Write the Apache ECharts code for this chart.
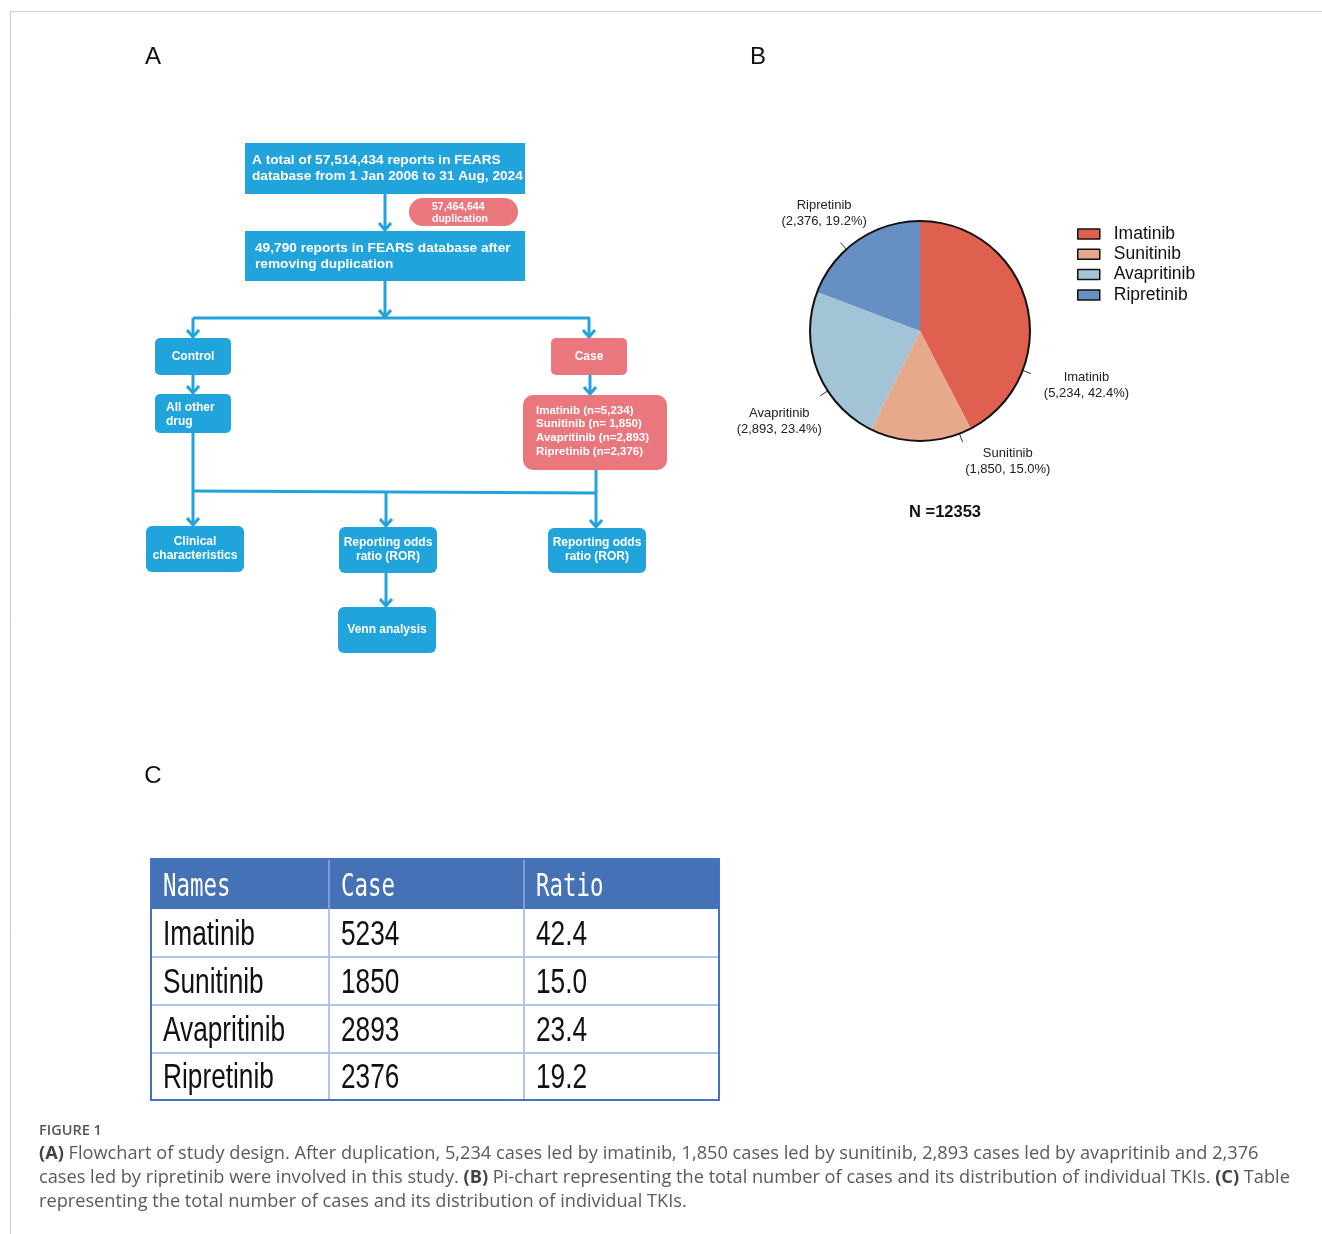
<!DOCTYPE html>
<html>
<head>
<meta charset="utf-8">
<script src="https://cdn.jsdelivr.net/npm/echarts@6/dist/echarts.min.js"></script>
<style>
  html, body { margin: 0; padding: 0; background: #fff; }
  #main { width: 1322px; height: 1234px; }
</style>
</head>
<body>
<div id="main"></div>
<script>
// ---- data ----
const drugs = ['Imatinib', 'Sunitinib', 'Avapritinib', 'Ripretinib'];
const cases = [5234, 1850, 2893, 2376];
const ratios = [42.4, 15.0, 23.4, 19.2];
const tableHeader = ['Names', 'Case', 'Ratio'];

// flowchart wording
const totalReports = '57,514,434';
const duplicates = '57,464,644';
const keptReports = '49,790';
const studyPeriod = '1 Jan 2006 to 31 Aug, 2024';
const caseGroups = ['Imatinib (n=5,234)', 'Sunitinib (n= 1,850)', 'Avapritinib (n=2,893)', 'Ripretinib (n=2,376)'];

// ---- styles ----
const sliceColors = ['#E0604F', '#E7A98C', '#A3C4D6', '#6690C4'];
const BLUE = '#21A3DB';
const PINK = '#E9777D';
const FF = '"Liberation Sans", Arial, sans-serif';

// pie geometry and label placement (angles clockwise from 12 o'clock)
const PIE_C = [920, 331];
const PIE_R = 110;
const tickAngle = [111, 159, 237, 318];
const labelAngle = [108, 146, 237.4, 320.9];
const labelDist = [175, 157, 167, 152];

const els = [];

// frame lines
els.push({ type: 'line', shape: { x1: 10, y1: 11.5, x2: 1322, y2: 11.5 }, style: { stroke: '#cfcfcf', lineWidth: 1 } });
els.push({ type: 'line', shape: { x1: 10.5, y1: 11, x2: 10.5, y2: 1234 }, style: { stroke: '#cfcfcf', lineWidth: 1 } });

// panel letters
function letter(t, x, y) {
  els.push({ type: 'text', x: x, y: y, style: { text: t, fill: '#111', fontSize: 24, fontFamily: FF, textAlign: 'center', textVerticalAlign: 'middle' } });
}
letter('A', 153, 57);
letter('B', 758, 57);
letter('C', 153, 776);

// ---- flowchart helpers ----
function box(x, y, w, h, r, fill) {
  els.push({ type: 'rect', shape: { x: x, y: y, width: w, height: h, r: r }, style: { fill: fill } });
}
function label(t, x, y, size, lh, align) {
  els.push({ type: 'text', x: x, y: y, style: {
    text: t, fill: '#fff', fontSize: size, fontWeight: 'bold', fontFamily: FF,
    lineHeight: lh, textAlign: align || 'center', textVerticalAlign: 'middle' } });
}
function line(pts) {
  els.push({ type: 'polyline', shape: { points: pts }, style: { stroke: BLUE, lineWidth: 3, fill: null, lineJoin: 'miter' } });
}
function arrowDown(x, y1, y2) {
  line([[x, y1], [x, y2 - 1]]);
  line([[x - 6, y2 - 8], [x, y2 - 1], [x + 6, y2 - 8]]);
}

// top boxes
box(245, 143, 280, 51, 0, BLUE);
label('A total of ' + totalReports + ' reports in FEARS\ndatabase from ' + studyPeriod, 252, 168.5, 13.7, 16, 'left');
arrowDown(385, 194, 231);
els.push({ type: 'rect', shape: { x: 409, y: 198, width: 109, height: 28, r: 14 }, style: { fill: PINK } });
label(duplicates + '\nduplication', 432, 213, 10.5, 12, 'left');
box(245, 231, 280, 50, 0, BLUE);
label(keptReports + ' reports in FEARS database after\nremoving duplication', 255, 256, 13.7, 16, 'left');

// split into control / case
arrowDown(385, 281, 318);
line([[193, 318], [590, 318]]);
arrowDown(193, 318, 338);
arrowDown(589, 318, 338);
box(155, 338, 76, 37, 5, BLUE);
label('Control', 193, 357, 12, 14);
box(551, 338, 76, 37, 5, PINK);
label('Case', 589, 357, 12, 14);
arrowDown(193, 375, 394);
arrowDown(590, 375, 395);
box(155, 394, 76, 39, 5, BLUE);
label('All other\ndrug', 166, 415, 12, 14, 'left');
box(523, 395, 144, 75, 10, PINK);
label(caseGroups.join('\n'), 536, 431, 11.5, 13.6, 'left');

// analyses
line([[193, 433], [193, 491]]);
arrowDown(193, 491, 526);
line([[596, 470], [596, 493]]);
arrowDown(596, 493, 528);
line([[193, 491], [596, 493]]);
arrowDown(386, 492, 527);
box(146, 526, 98, 46, 6, BLUE);
label('Clinical\ncharacteristics', 195, 549, 12, 14);
box(339, 527, 98, 46, 6, BLUE);
label('Reporting odds\nratio (ROR)', 388, 550, 12, 14);
box(548, 528, 98, 45, 6, BLUE);
label('Reporting odds\nratio (ROR)', 597, 550, 12, 14);
arrowDown(386, 573, 607);
box(338, 607, 98, 46, 6, BLUE);
label('Venn analysis', 387, 630, 12, 14);

// N total under the pie
const total = cases.reduce((a, b) => a + b, 0);
els.push({ type: 'text', x: 945, y: 512, style: { text: 'N =' + total, fill: '#111', fontSize: 16.5, fontWeight: 'bold', fontFamily: FF, textAlign: 'center', textVerticalAlign: 'middle' } });

// ---- table ----
const colX = [151, 329, 524, 719];
const rowY = [859, 909, 957, 1005, 1053, 1100];
els.push({ type: 'rect', shape: { x: colX[0], y: rowY[0], width: colX[3] - colX[0], height: rowY[1] - rowY[0] }, style: { fill: '#4571B6' } });
// inner grid
for (let r = 2; r < rowY.length - 1; r++) {
  els.push({ type: 'line', shape: { x1: colX[0], y1: rowY[r], x2: colX[3], y2: rowY[r] }, style: { stroke: '#B4C6E7', lineWidth: 2 } });
}
for (let c = 1; c < colX.length - 1; c++) {
  els.push({ type: 'line', shape: { x1: colX[c], y1: rowY[1], x2: colX[c], y2: rowY[5] }, style: { stroke: '#B4C6E7', lineWidth: 2 } });
  els.push({ type: 'line', shape: { x1: colX[c], y1: rowY[0], x2: colX[c], y2: rowY[1] }, style: { stroke: '#7F9BD0', lineWidth: 2 } });
}
els.push({ type: 'rect', shape: { x: colX[0], y: rowY[0], width: colX[3] - colX[0], height: rowY[5] - rowY[0] }, style: { fill: null, stroke: '#4472C4', lineWidth: 2 } });

function cell(t, c, r, head) {
  const yMid = (rowY[r] + rowY[r + 1]) / 2 + (head ? 4 : 2);
  els.push({
    type: 'text', x: colX[c] + 12, y: yMid, scaleX: head ? 0.7 : 0.75,
    style: {
      text: t, fill: head ? '#fff' : '#111',
      fontSize: head ? 32 : 35, fontFamily: head ? '"DejaVu Sans Mono", monospace' : FF,
      fontWeight: head ? 300 : 'normal',
      textAlign: 'left', textVerticalAlign: 'middle'
    }
  });
}
tableHeader.forEach((h, c) => cell(h, c, 0, true));
drugs.forEach((d, i) => {
  cell(d, 0, i + 1);
  cell(String(cases[i]), 1, i + 1);
  cell(ratios[i].toFixed(1), 2, i + 1);
});

// ---- caption ----
const capFont = '"Open Sans", Lato, sans-serif';
els.push({ type: 'text', x: 39, y: 1131, style: { text: 'FIGURE 1', fill: '#555', fontSize: 14.5, fontWeight: 600, fontFamily: capFont, textVerticalAlign: 'middle' } });
const capLines = [
  '{b|(A)} Flowchart of study design. After duplication, 5,234 cases led by imatinib, 1,850 cases led by sunitinib, 2,893 cases led by avapritinib and 2,376',
  'cases led by ripretinib were involved in this study. {b|(B)} Pi-chart representing the total number of cases and its distribution of individual TKIs. {b|(C)} Table',
  'representing the total number of cases and its distribution of individual TKIs.'
];
capLines.forEach((t, i) => {
  els.push({ type: 'text', x: 39, y: 1154 + i * 24, style: {
    text: t, fill: '#5a5a5a', fontSize: 18.2, fontFamily: capFont, textVerticalAlign: 'middle',
    rich: { b: { fontWeight: 'bold', fill: '#444', fontSize: 18.2, fontFamily: capFont } }
  } });
});

// ---- chart ----
const chart = echarts.init(document.getElementById('main'), null, { renderer: 'canvas' });
chart.setOption({
  backgroundColor: '#fff',
  animation: false,
  color: sliceColors,
  legend: {
    data: drugs,
    orient: 'vertical',
    left: 1077, top: 225,
    padding: 0,
    itemWidth: 22, itemHeight: 10, itemGap: 2.3,
    icon: 'rect',
    itemStyle: { borderColor: '#111', borderWidth: 1.5 },
    textStyle: { fontSize: 17.5, color: '#111', fontFamily: FF, lineHeight: 17, padding: [0, 0, 0, 9] }
  },
  series: [
    {
      type: 'pie',
      center: PIE_C,
      radius: PIE_R,
      startAngle: 90,
      clockwise: true,
      avoidLabelOverlap: false,
      itemStyle: { borderWidth: 0 },
      data: drugs.map((d, i) => ({ name: d, value: cases[i] })),
      label: {
        show: true, position: 'outside',
        fontSize: 13, lineHeight: 16, color: '#222', fontFamily: FF,
        formatter: p => p.name + '\n(' + cases[p.dataIndex].toLocaleString('en-US') + ', ' + ratios[p.dataIndex].toFixed(1) + '%)'
      },
      labelLine: { show: true, length: 10, length2: 0, lineStyle: { color: '#333', width: 1 } },
      labelLayout: function (p) {
        const i = p.dataIndex;
        const a = tickAngle[i] * Math.PI / 180;
        const la = labelAngle[i] * Math.PI / 180;
        const dx = Math.sin(a), dy = -Math.cos(a);
        const p1 = [PIE_C[0] + (PIE_R - 5) * dx, PIE_C[1] + (PIE_R - 5) * dy];
        const p2 = [PIE_C[0] + (PIE_R + 9) * dx, PIE_C[1] + (PIE_R + 9) * dy];
        return {
          x: PIE_C[0] + labelDist[i] * Math.sin(la),
          y: PIE_C[1] - labelDist[i] * Math.cos(la),
          align: 'center', verticalAlign: 'middle',
          labelLinePoints: [p1, p2, p2]
        };
      },
      emphasis: { disabled: true }
    },
    {
      // outline ring around the pie
      type: 'pie',
      center: PIE_C,
      radius: [PIE_R - 1, PIE_R + 1],
      silent: true,
      label: { show: false },
      labelLine: { show: false },
      itemStyle: { color: '#111' },
      data: [{ name: 'outline', value: 1 }],
      emphasis: { disabled: true }
    }
  ],
  graphic: { elements: els }
});
</script>
</body>
</html>
